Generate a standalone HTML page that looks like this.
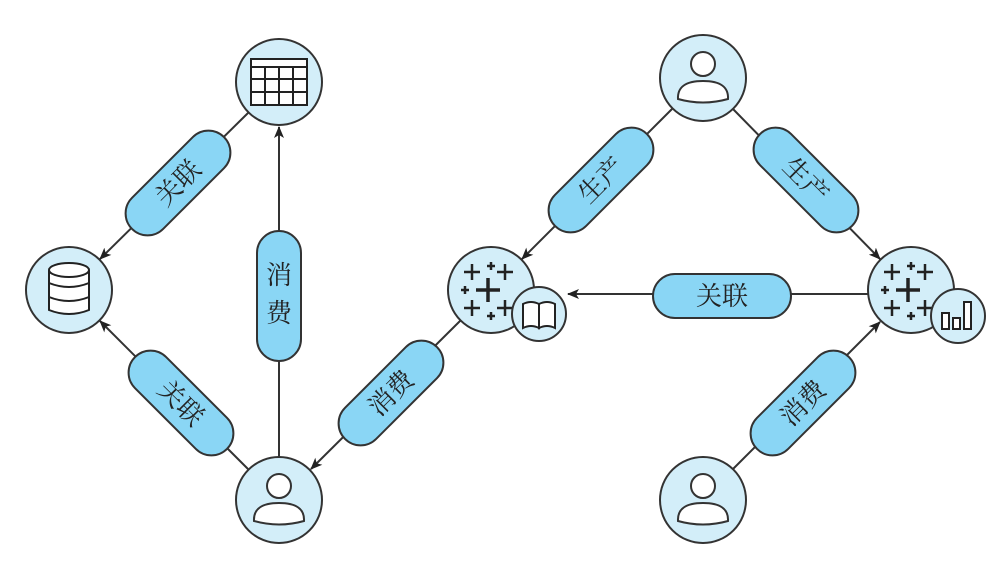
<!DOCTYPE html>
<html><head><meta charset="utf-8"><style>
html,body{margin:0;padding:0;background:#fff;width:1000px;height:569px;overflow:hidden}
text{font-family:"Liberation Serif","Noto Serif CJK SC","Noto Sans CJK SC",serif;font-size:26px;fill:#222}
</style></head><body>
<svg width="1000" height="569" viewBox="0 0 1000 569" xmlns="http://www.w3.org/2000/svg">
<defs>
<marker id="a" markerWidth="12" markerHeight="10" refX="11" refY="5" orient="auto" markerUnits="userSpaceOnUse">
<path d="M0,0 L12,5 L0,10 L3,5 Z" fill="#222"/></marker>
<g id="user">
<circle r="43" fill="#d3eef9" stroke="#333" stroke-width="2"/>
<circle cx="0" cy="-14" r="12" fill="#fff" stroke="#333" stroke-width="2"/>
<path d="M-25,21 Q-26,3 0,3 Q26,3 25,21 Q0,28 -25,21 Z" fill="#fff" stroke="#333" stroke-width="2"/>
</g>
<g id="tab">
<circle r="43" fill="#d3eef9" stroke="#333" stroke-width="2"/>
<g stroke="#222" stroke-width="2.5" stroke-linecap="butt">
<path d="M-27,-18h16M-19,-26v16"/><path d="M-4,-24h8M0,-28v8"/><path d="M6,-18h16M14,-26v16"/>
<path d="M-30,0h8M-26,-4v8"/><path d="M-15,0h24M-3,-12v24" stroke-width="3.5"/>
<path d="M-27,18h16M-19,10v16"/><path d="M-4,26h8M0,22v8"/><path d="M6,18h16M14,10v16"/>
</g></g>
<g id="pill"><rect x="-65" y="-22" width="130" height="44" rx="22" fill="#8ad6f5" stroke="#333" stroke-width="2"/></g>
</defs>
<g stroke="#333" stroke-width="2" fill="none">
<line x1="248" y1="113" x2="100" y2="259" marker-end="url(#a)"/>
<line x1="279" y1="457" x2="279" y2="127" marker-end="url(#a)"/>
<line x1="248" y1="469" x2="100" y2="321" marker-end="url(#a)"/>
<line x1="461" y1="320" x2="311" y2="469" marker-end="url(#a)"/>
<line x1="672" y1="109" x2="522" y2="259" marker-end="url(#a)"/>
<line x1="733" y1="109" x2="880" y2="259" marker-end="url(#a)"/>
<line x1="870" y1="294" x2="568" y2="294" marker-end="url(#a)"/>
<line x1="732" y1="470" x2="880" y2="322" marker-end="url(#a)"/>
</g>
<circle cx="279" cy="82" r="43" fill="#d3eef9" stroke="#333" stroke-width="2"/>
<g stroke="#222" stroke-width="2" fill="#fff">
<rect x="251" y="59" width="56" height="46"/>
<path d="M251,67h56M251,79h56M251,92h56M265,67v38M279,67v38M293,67v38" fill="none"/>
</g>
<circle cx="69" cy="290" r="43" fill="#d3eef9" stroke="#333" stroke-width="2"/>
<g stroke="#222" stroke-width="2" fill="#fff">
<path d="M49,270 v40 q20,8 40,0 v-40"/>
<ellipse cx="69" cy="270" rx="20" ry="7"/>
<path d="M49,283 q20,8 40,0 M49,297 q20,8 40,0" fill="none"/>
</g>
<use href="#user" x="279" y="500"/>
<use href="#user" x="703" y="78"/>
<use href="#user" x="703" y="500"/>
<use href="#tab" x="491" y="290"/>
<circle cx="539" cy="314" r="27" fill="#d3eef9" stroke="#333" stroke-width="2"/>
<g stroke="#222" stroke-width="2" fill="#fff">
<path d="M539,328 q-8,-4 -16,0 v-24 q8,-4 16,0 Z"/><path d="M539,328 q8,-4 16,0 v-24 q-8,-4 -16,0 Z"/>
</g>
<use href="#tab" x="911" y="290"/>
<circle cx="958" cy="316" r="27" fill="#d3eef9" stroke="#333" stroke-width="2"/>
<g stroke="#222" stroke-width="2" fill="#fff">
<rect x="942" y="313" width="7" height="16"/><rect x="953" y="318" width="7" height="11"/><rect x="964" y="302" width="7" height="27"/>
</g>
<g transform="translate(178,183) rotate(-45)"><use href="#pill"/><text x="0" y="9" text-anchor="middle">关联</text></g>
<g transform="translate(279,296) rotate(-90)"><use href="#pill"/></g>
<text x="279" y="284" text-anchor="middle">消</text><text x="279" y="322" text-anchor="middle">费</text>
<g transform="translate(181,403) rotate(45)"><use href="#pill"/><text x="0" y="9" text-anchor="middle">关联</text></g>
<g transform="translate(391,393) rotate(-45)"><use href="#pill"/><text x="0" y="9" text-anchor="middle">消费</text></g>
<g transform="translate(601,180) rotate(-45)"><use href="#pill"/><text x="0" y="9" text-anchor="middle">生产</text></g>
<g transform="translate(806,180) rotate(45)"><use href="#pill"/><text x="0" y="9" text-anchor="middle">生产</text></g>
<g transform="translate(722,296)"><rect x="-69" y="-22" width="138" height="44" rx="22" fill="#8ad6f5" stroke="#333" stroke-width="2"/><text x="0" y="9" text-anchor="middle">关联</text></g>
<g transform="translate(803,403) rotate(-45)"><use href="#pill"/><text x="0" y="9" text-anchor="middle">消费</text></g>
</svg>
</body></html>
